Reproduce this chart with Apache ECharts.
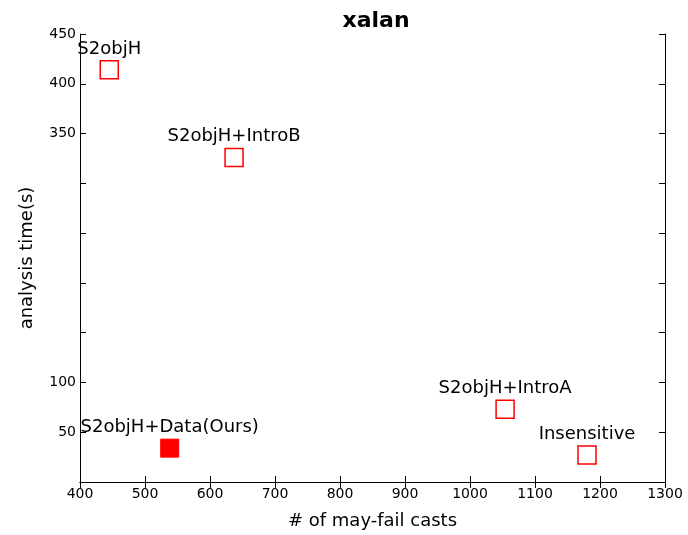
<!DOCTYPE html>
<html>
<head>
<meta charset="utf-8">
<script src="https://cdn.jsdelivr.net/npm/echarts@6/dist/echarts.min.js"></script>
<style>html,body{margin:0;padding:0;background:#fff}#c{width:688px;height:535px}</style>
</head>
<body>
<div id="c"></div>
<script>
var names = ['S2objH', 'S2objH+IntroB', 'S2objH+Data(Ours)', 'S2objH+IntroA', 'Insensitive'];
var castCounts = [445, 637, 538, 1054, 1180];
var analysisTimes = [414, 326, 34, 73, 27];
var oursName = 'S2objH+Data(Ours)';
var xTicks = [400, 500, 600, 700, 800, 900, 1000, 1100, 1200, 1300];
var yTickLabels = [50, 100, 350, 400, 450];

var chart = echarts.init(document.getElementById('c'));
var font = 'DejaVu Sans';
var data = names.map(function (n, i) {
  var ours = n === oursName;
  return {
    name: n,
    value: [castCounts[i], analysisTimes[i]],
    itemStyle: ours ? { color: '#ff0000', borderColor: '#ff0000', borderWidth: 1, opacity: 1 }
                    : { color: '#ffffff', borderColor: '#ff0000', borderWidth: 1.5, opacity: 1 }
  };
});
var axisLineStyle = { color: '#000', width: 1 };
chart.setOption({
  animation: false,
  title: {
    text: 'xalan', left: 371, top: 5, textAlign: 'center',
    textStyle: { fontFamily: font, fontSize: 22, fontWeight: 'bold', color: '#000' }
  },
  grid: { left: 80, right: 23, top: 34, bottom: 50 },
  xAxis: [{
    type: 'value', min: xTicks[0], max: xTicks[xTicks.length - 1], interval: 100,
    name: '# of may-fail casts', nameLocation: 'middle', nameGap: 30,
    nameTextStyle: { fontFamily: font, fontSize: 18, color: '#000' },
    axisLine: { lineStyle: axisLineStyle },
    axisTick: { inside: true, length: 6, lineStyle: axisLineStyle },
    axisLabel: { fontFamily: font, fontSize: 14, color: '#000', margin: 5,
      formatter: function (v) { return String(v); } },
    splitLine: { show: false }
  }, {
    type: 'value', position: 'top', min: xTicks[0], max: xTicks[xTicks.length - 1], interval: 100,
    axisLine: { show: true, lineStyle: axisLineStyle },
    axisTick: { inside: true, length: 6, lineStyle: axisLineStyle },
    axisLabel: { show: false }, splitLine: { show: false }
  }],
  yAxis: [{
    type: 'value', min: 0, max: 450, interval: 50,
    name: 'analysis time(s)', nameLocation: 'middle', nameGap: 44, nameRotate: 90,
    nameTextStyle: { fontFamily: font, fontSize: 18, color: '#000' },
    axisLine: { show: true, lineStyle: axisLineStyle },
    axisTick: { inside: true, length: 6, lineStyle: axisLineStyle },
    axisLabel: {
      fontFamily: font, fontSize: 14, color: '#000', margin: 4,
      formatter: function (v) { return yTickLabels.indexOf(v) >= 0 ? String(v) : ''; }
    },
    splitLine: { show: false }
  }, {
    type: 'value', position: 'right', min: 0, max: 450, interval: 50,
    axisLine: { show: true, lineStyle: axisLineStyle },
    axisTick: { inside: true, length: 6, lineStyle: axisLineStyle },
    axisLabel: { show: false }, splitLine: { show: false }
  }],
  series: [{
    type: 'scatter', symbol: 'rect', symbolSize: 18,
    itemStyle: { opacity: 1 },
    data: data,
    label: {
      show: true, position: 'top', distance: 2, formatter: '{b}',
      fontFamily: font, fontSize: 18, color: '#000', opacity: 1
    }
  }]
});
</script>
</body>
</html>
